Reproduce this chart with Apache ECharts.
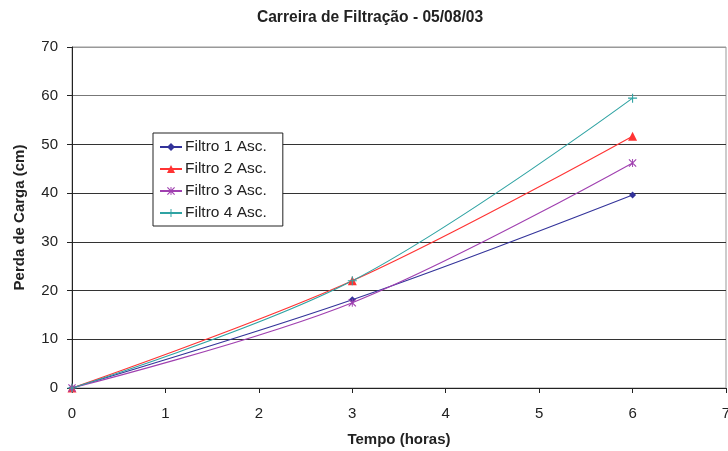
<!DOCTYPE html>
<html>
<head>
<meta charset="utf-8">
<script src="https://cdn.jsdelivr.net/npm/echarts@6/dist/echarts.min.js"></script>
<style>
  html, body { margin: 0; padding: 0; background: #fff; }
  #chart { width: 728px; height: 451px; }
</style>
</head>
<body>
<div id="chart"></div>
<script>
// Tempo (horas) of each reading
const tempo = [0, 3, 6];
// Perda de carga (cm) per filter
const filtro1 = [0, 18.1, 39.6];
const filtro2 = [0, 22.0, 51.7];
const filtro3 = [0, 17.5, 46.2];
const filtro4 = [0, 22.0, 59.5];
const seriesNames = ['Filtro 1 Asc.', 'Filtro 2 Asc.', 'Filtro 3 Asc.', 'Filtro 4 Asc.'];

const FONT = 'Liberation Sans, Arial, sans-serif';
const plusPath = 'path://M4.4,0h1.2v10h-1.2z M0,4.4h10v1.2h-10z';
const starPath = 'path://M0,1L1,0L10,9L9,10Z M9,0L10,1L1,10L0,9Z M4.4,0h1.2v10h-1.2Z';

function pairs(ys) { return tempo.map((t, i) => [t, ys[i]]); }

const styles = [
  { data: filtro1, color: '#33339a', symbol: 'diamond', size: 7 },
  { data: filtro2, color: '#ff3333', symbol: 'triangle', size: 9 },
  { data: filtro3, color: '#a040b0', symbol: starPath, size: 8 },
  { data: filtro4, color: '#2fa3a3', symbol: plusPath, size: 9 }
];

const chart = echarts.init(document.getElementById('chart'), null, { renderer: 'canvas' });
chart.setOption({
  animation: false,
  title: {
    text: 'Carreira de Filtração - 05/08/03',
    left: 365, textAlign: 'center', top: 5,
    textStyle: { fontFamily: FONT, fontSize: 15.6, fontWeight: 'bold', color: '#222' }
  },
  grid: {
    left: 72, right: 2, top: 47, bottom: 63,
    containLabel: false, outerBoundsMode: 'none',
    show: true, borderColor: '#999', borderWidth: 1
  },
  legend: {
    orient: 'vertical', left: 153, top: 133,
    data: seriesNames,
    itemWidth: 22, itemHeight: 10, itemGap: 6,
    padding: [6, 16, 5, 6],
    backgroundColor: '#fff', borderColor: '#222', borderWidth: 1,
    textStyle: { fontFamily: FONT, fontSize: 15.5, color: '#222', padding: [0, 0, 0, -2] }
  },
  xAxis: {
    type: 'value', min: 0, max: 7, interval: 1,
    name: 'Tempo (horas)', nameLocation: 'middle', nameGap: 44,
    nameTextStyle: { fontFamily: FONT, fontSize: 15, fontWeight: 'bold', color: '#222' },
    axisLine: { lineStyle: { color: '#222', width: 1 } },
    axisTick: { show: true, length: 5, lineStyle: { color: '#222' } },
    axisLabel: { fontFamily: FONT, fontSize: 15, color: '#222', margin: 18 },
    splitLine: { show: false }
  },
  yAxis: {
    type: 'value', min: 0, max: 70, interval: 10,
    name: 'Perda de Carga (cm)', nameLocation: 'middle', nameGap: 45,
    nameTextStyle: { fontFamily: FONT, fontSize: 15, fontWeight: 'bold', color: '#222' },
    axisLine: { show: true, lineStyle: { color: '#222', width: 1 } },
    axisTick: { show: true, length: 5, lineStyle: { color: '#222' } },
    axisLabel: { fontFamily: FONT, fontSize: 15, color: '#222', margin: 14 },
    splitLine: { show: true, lineStyle: { color: ['#333', '#333', '#333', '#333', '#333', '#333', '#777', '#999'], width: 1 } }
  },
  series: styles.map((s, i) => ({
    name: seriesNames[i],
    type: 'line',
    data: pairs(s.data),
    smooth: 0.35,
    symbol: s.symbol,
    symbolSize: s.size,
    showSymbol: true,
    color: s.color,
    lineStyle: { color: s.color, width: 1.1 },
    itemStyle: { color: s.color, borderWidth: 0 },
    emphasis: { disabled: true }
  }))
});
</script>
</body>
</html>
